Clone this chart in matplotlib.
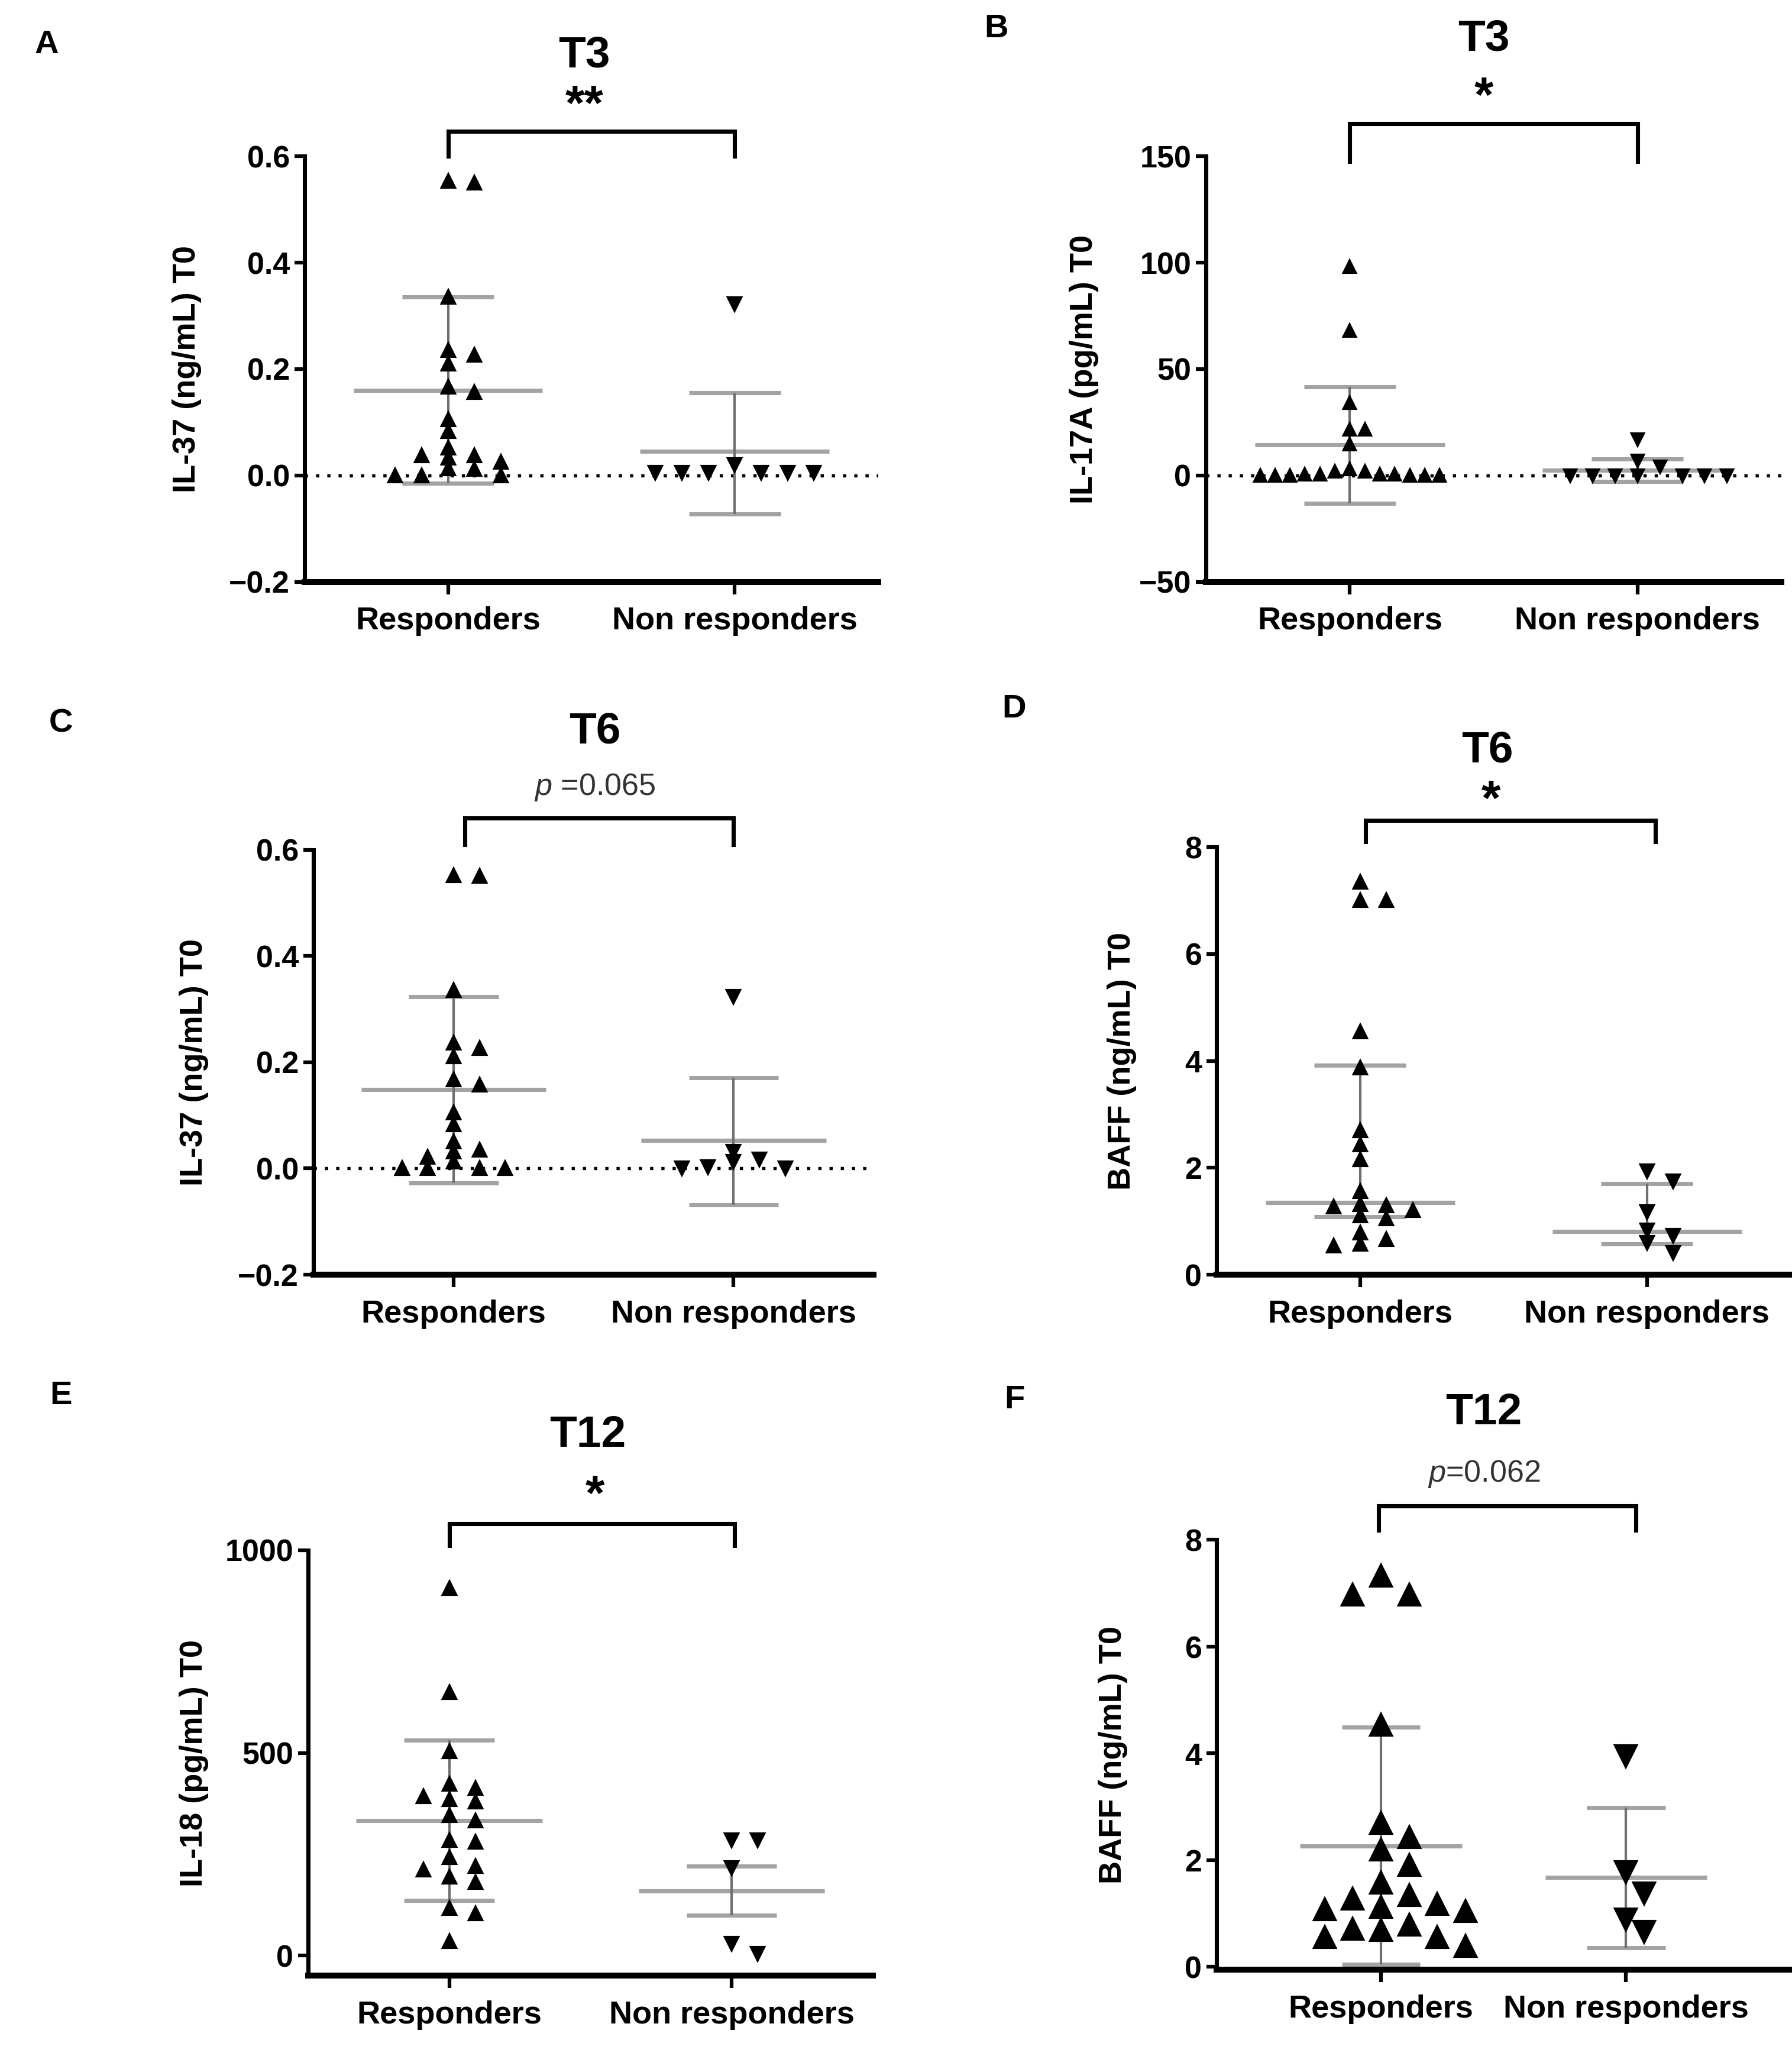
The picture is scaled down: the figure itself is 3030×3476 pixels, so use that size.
import matplotlib
matplotlib.use('Agg')
import matplotlib.pyplot as plt
import matplotlib.transforms as mtransforms
import numpy as np

plt.rcParams['font.family'] = ['Liberation Sans', 'DejaVu Sans']
plt.rcParams['mathtext.fontset'] = 'custom'
plt.rcParams['mathtext.it'] = 'Liberation Sans:italic'
plt.rcParams['mathtext.rm'] = 'Liberation Sans'

groups = ['Responders', 'Non responders']

# values, one array per group
a_resp = [0.553, 0.55, 0.335, 0.235, 0.226, 0.21, 0.167, 0.157, 0.105, 0.083,
          0.052, 0.038, 0.038, 0.033, 0.025, 0.013, 0.012, 0.0, 0.0, 0.0]
a_non = [0.322, 0.02, 0.005, 0.005, 0.005, 0.005, 0.005, 0.005]
a_stats = [(0.16, -0.015, 0.335), (0.045, -0.072, 0.155)]   # centre, low, high

b_resp = [98, 68, 34, 21.5, 21.5, 14.7, 3, 2, 2, 0.5, 0.5, 0.5, 0.5,
          0, 0, 0, 0, 0, 0]
b_non = [17, 7, 4, 0, 0, 0, 0, 0, 0, 0]
b_stats = [(14.3, -13, 41.6), (2.4, -2.8, 7.7)]

c_resp = [0.552, 0.55, 0.336, 0.237, 0.227, 0.211, 0.168, 0.157, 0.105, 0.083,
          0.051, 0.035, 0.032, 0.022, 0.013, 0.0, 0.0, 0.0, 0.0]
c_non = [0.323, 0.032, 0.017, 0.013, 0.003, 0.0, 0.0]
c_stats = [(0.149, -0.027, 0.323), (0.053, -0.069, 0.171)]

d_resp = [7.35, 7.0, 7.0, 4.55, 3.87, 2.7, 2.44, 2.16, 1.56, 1.32, 1.29, 1.27,
          1.21, 1.11, 1.05, 0.79, 0.67, 0.58, 0.54]
d_non = [1.94, 1.75, 1.17, 0.83, 0.73, 0.6, 0.41]
d_stats = [(1.35, 1.09, 3.92), (0.81, 0.58, 1.70)]

e_resp = [907, 650, 503, 424, 413, 393, 385, 380, 346, 333, 285, 281, 242,
          220, 212, 194, 181, 117, 104, 35]
e_non = [285, 285, 216, 30, 4]
e_stats = [(333, 136, 531), (160, 99, 220)]

f_resp = [7.33, 6.97, 6.97, 4.54, 2.70, 2.43, 2.20, 1.91, 1.58, 1.35, 1.28,
          1.18, 1.12, 1.08, 1.05, 0.79, 0.72, 0.69, 0.56, 0.56, 0.39]
f_non = [3.95, 1.78, 1.38, 0.89, 0.66]
f_stats = [(2.27, 0.05, 4.49), (1.68, 0.36, 2.99)]

ylabels = ['IL-37 (ng/mL) T0', 'IL-17A (pg/mL) T0', 'IL-37 (ng/mL) T0',
           'BAFF (ng/mL) T0', 'IL-18 (pg/mL) T0', 'BAFF (ng/mL) T0']
titles = ['T3', 'T3', 'T6', 'T6', 'T12', 'T12']
signif = ['**', '*', r'$\mathit{p}$ =0.065', '*', '*', r'$\mathit{p}$=0.062']
letters = ['A', 'B', 'C', 'D', 'E', 'F']


def swarm(vals, step, h):
    # simple greedy beeswarm: try centre, then alternate sides
    vals = np.asarray(vals, dtype=float)
    cands = [0]
    for k in range(1, 12):
        cands += [k, -k]
    placed = []
    offs = np.zeros(len(vals))
    for i in np.argsort(-vals, kind='stable'):
        v = vals[i]
        for c in cands:
            if all(not (o == c and abs(pv - v) < h) for o, pv in placed):
                break
        placed.append((c, v))
        offs[i] = c * step
    return offs


panels = [
    dict(data=(a_resp, a_non), stats=a_stats, rect=[0.170, 0.717, 0.320, 0.207],
         ylim=(-0.2, 0.6), yticks=[-0.2, 0.0, 0.2, 0.4, 0.6], fmt='{:.1f}',
         xlim=(-0.5, 1.5), zero=True, steps=(0.092, 0.092), h=0.022, ms=5.5,
         br=(0, 1, 1.0, 1.059), lab=-0.18, title=(0.326, 0.973), sig=(0.326, 0.948),
         letter=(0.026, 0.978)),
    dict(data=(b_resp, b_non), stats=b_stats, rect=[0.673, 0.717, 0.321, 0.207],
         ylim=(-50, 150), yticks=[-50, 0, 50, 100, 150], fmt='{:.0f}',
         xlim=(-0.5, 1.5), zero=True, steps=(0.052, 0.078), h=0.022, ms=5,
         br=(0, 1, 0.987, 1.077), lab=-0.186, title=(0.828, 0.981), sig=(0.828, 0.952),
         letter=(0.556, 0.986)),
    dict(data=(c_resp, c_non), stats=c_stats, rect=[0.175, 0.380, 0.3125, 0.2067],
         ylim=(-0.2, 0.6), yticks=[-0.2, 0.0, 0.2, 0.4, 0.6], fmt='{:.1f}',
         xlim=(-0.5, 1.5), zero=True, steps=(0.092, 0.092), h=0.022, ms=5.5,
         br=(0.04, 1, 1.012, 1.075), lab=-0.187, title=(0.332, 0.644), sig=(0.332, 0.617),
         letter=(0.034, 0.648)),
    dict(data=(d_resp, d_non), stats=d_stats, rect=[0.679, 0.380, 0.320, 0.208],
         ylim=(0, 8), yticks=[0, 2, 4, 6, 8], fmt='{:.0f}',
         xlim=(-0.5, 1.5), zero=False, steps=(0.092, 0.092), h=0.026, ms=5.5,
         br=(0.02, 1.03, 1.012, 1.063), lab=-0.14, title=(0.830, 0.635), sig=(0.832, 0.610),
         letter=(0.566, 0.655)),
    dict(data=(e_resp, e_non), stats=e_stats, rect=[0.172, 0.039, 0.315, 0.207],
         ylim=(-50, 1000), yticks=[0, 500, 1000], fmt='{:.0f}',
         xlim=(-0.5, 1.5), zero=False, steps=(0.092, 0.092), h=0.03, ms=5.5,
         br=(0, 1.01, 1.011, 1.062), lab=-0.176, title=(0.328, 0.302), sig=(0.332, 0.272),
         letter=(0.034, 0.321)),
    dict(data=(f_resp, f_non), stats=f_stats, rect=[0.679, 0.042, 0.320, 0.209],
         ylim=(-0.05, 8), yticks=[0, 2, 4, 6, 8], fmt='{:.0f}',
         xlim=(-0.67, 1.67), zero=False, steps=(0.115, 0.075), h=0.05, ms=8.5,
         br=(-0.01, 1.04, 1.023, 1.079), lab=-0.155, title=(0.828, 0.313), sig=(0.828, 0.283),
         letter=(0.566, 0.319)),
]

fig = plt.figure(figsize=(10.1, 11.587), dpi=300)

for i, p in enumerate(panels):
    ax = fig.add_axes(p['rect'])
    yrange = p['ylim'][1] - p['ylim'][0]
    for g, (vals, marker) in enumerate(zip(p['data'], ['^', 'v'])):
        xs = g + swarm(vals, p['steps'][g], p['h'] * yrange)
        ax.plot(xs, vals, ls='none', marker=marker, ms=p['ms'], color='black',
                mec='black', zorder=3, clip_on=False)
        c, lo, hi = p['stats'][g]
        ax.hlines(c, g - 0.33, g + 0.33, color='#a3a3a3', lw=1.7, zorder=2)
        ax.hlines([lo, hi], g - 0.16, g + 0.16, color='#a3a3a3', lw=1.7, zorder=2)
        ax.vlines(g, lo, hi, color='#707070', lw=1.0, zorder=2)
    if p['zero']:
        ax.axhline(0, color='black', ls=(0, (1, 2.5)), lw=1.3, zorder=1)

    ax.set_xlim(*p['xlim'])
    ax.set_ylim(*p['ylim'])
    ax.set_yticks(p['yticks'])
    ax.set_yticklabels([p['fmt'].format(t).replace('-', '\u2212') for t in p['yticks']])
    ax.set_xticks([0, 1])
    ax.set_xticklabels(groups)
    for s in ['top', 'right']:
        ax.spines[s].set_visible(False)
    ax.spines['left'].set_linewidth(1.7)
    ax.spines['bottom'].set_linewidth(2.4)
    ax.tick_params(axis='y', length=4, width=1.5, pad=2, labelsize=12.5)
    ax.tick_params(axis='x', length=5, width=1.5, pad=5, labelsize=13)
    for lbl in ax.get_xticklabels() + ax.get_yticklabels():
        lbl.set_fontweight('bold')
    ax.set_ylabel(ylabels[i], fontsize=13, fontweight='bold')
    ax.yaxis.set_label_coords(p['lab'], 0.5)

    # significance bracket
    x0, x1, yb, yt = p['br']
    trans = mtransforms.blended_transform_factory(ax.transData, ax.transAxes)
    ax.plot([x0, x0, x1, x1], [yb, yt, yt, yb], color='black', lw=1.7,
            transform=trans, clip_on=False, solid_joinstyle='miter')

    fig.text(p['title'][0], p['title'][1], titles[i], ha='center', va='center',
             fontsize=18, fontweight='bold')
    if signif[i].startswith('$'):
        fig.text(p['sig'][0], p['sig'][1], signif[i], ha='center', va='center',
                 fontsize=12.5, color='#333333')
    else:
        fig.text(p['sig'][0], p['sig'][1], signif[i], ha='center', va='center',
                 fontsize=20, fontweight='bold')
    fig.text(p['letter'][0], p['letter'][1], letters[i], ha='center', va='center',
             fontsize=13.5, fontweight='bold')

fig.savefig('out.png', dpi=300)
